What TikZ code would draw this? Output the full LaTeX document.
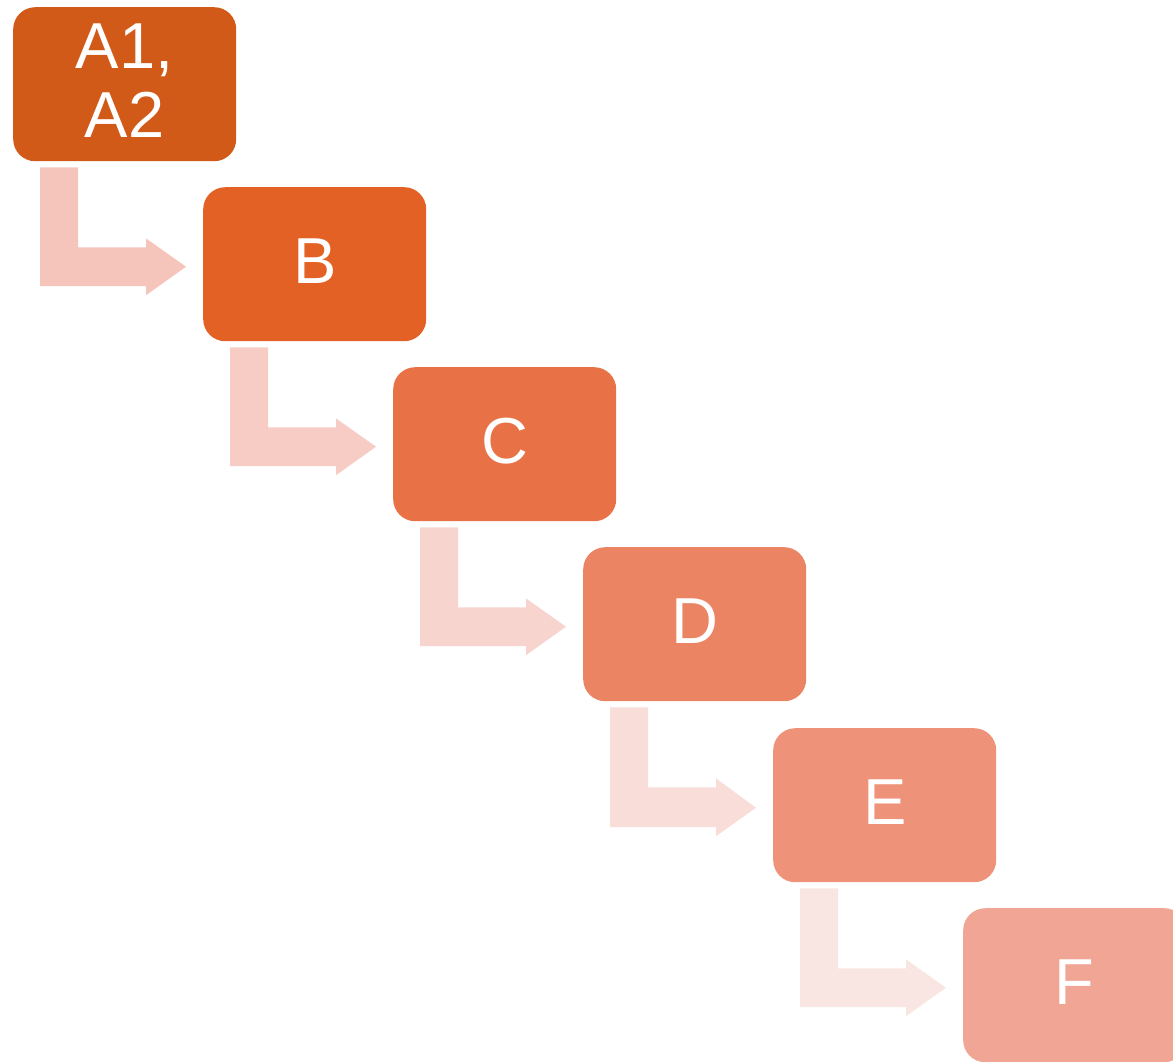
\documentclass[tikz,border=0pt]{standalone}
\usepackage{fontspec}
\setmainfont{Liberation Sans}
\usetikzlibrary{calc}
\definecolor{cA}{HTML}{D25A18}
\definecolor{cB}{HTML}{E46125}
\definecolor{cC}{HTML}{E87245}
\definecolor{cD}{HTML}{EB8462}
\definecolor{cE}{HTML}{EE937A}
\definecolor{cF}{HTML}{F0A595}
\definecolor{aA}{HTML}{F5C4BB}
\definecolor{aB}{HTML}{F6CCC4}
\definecolor{aC}{HTML}{F7D5CE}
\definecolor{aD}{HTML}{F8DDD8}
\definecolor{aE}{HTML}{F9E6E2}
\tikzset{
  box/.style={rounded corners=22pt, minimum width=223pt, minimum height=154pt,
    inner sep=0pt, anchor=north west},
  labtext/.style={text=white, font=\fontsize{65}{69}\selectfont, align=center,
    inner sep=0pt, yshift=3.5pt},
}
\newcommand{\bentarrow}[3]{%
  \fill[#3] ($(#1.south west)+(27,-6)$) -- ++(38,0) -- ++(0,-80) -- ++(68,0)
    -- ++(0,9) -- ($(#2.west)+(-17,-2.5)$) -- ++(-40,-28.5) -- ++(0,9)
    -- ++(-106,0) -- cycle;}
\begin{document}
\begin{tikzpicture}[x=1pt,y=1pt]
\useasboundingbox (0,0) rectangle (1173,-1061);
\clip (0,0) rectangle (1173,-1061);
\node[box, fill=cA, label={[labtext]center:{A1,\\A2}}] (A) at (13,-7) {};
\node[box, fill=cB, label={[labtext]center:B}] (B) at (203,-187) {};
\node[box, fill=cC, label={[labtext]center:C}] (C) at (393,-367) {};
\node[box, fill=cD, label={[labtext]center:D}] (D) at (583,-547) {};
\node[box, fill=cE, label={[labtext]center:E}] (E) at (773,-728) {};
\node[box, fill=cF, label={[labtext]center:F}] (F) at (963,-908) {};
\bentarrow{A}{B}{aA}
\bentarrow{B}{C}{aB}
\bentarrow{C}{D}{aC}
\bentarrow{D}{E}{aD}
\bentarrow{E}{F}{aE}
\end{tikzpicture}
\end{document}
